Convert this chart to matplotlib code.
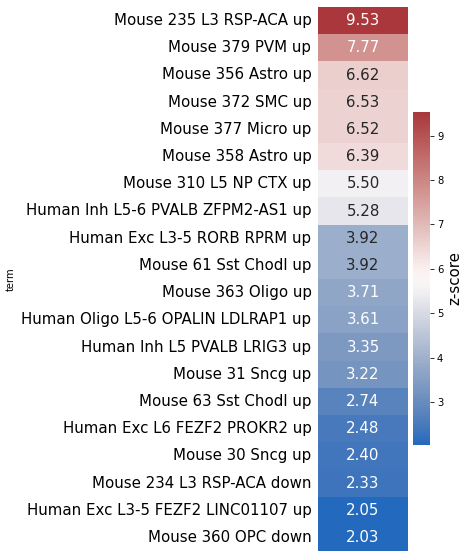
import matplotlib; matplotlib.use('Agg')
import matplotlib.pyplot as plt
import numpy as np
import pandas as pd
import seaborn as sns

terms = ["Mouse 235 L3 RSP-ACA up", "Mouse 379 PVM up", "Mouse 356 Astro up",
         "Mouse 372 SMC up", "Mouse 377 Micro up", "Mouse 358 Astro up",
         "Mouse 310 L5 NP CTX up", "Human Inh L5-6 PVALB ZFPM2-AS1 up",
         "Human Exc L3-5 RORB RPRM up", "Mouse 61 Sst Chodl up", "Mouse 363 Oligo up",
         "Human Oligo L5-6 OPALIN LDLRAP1 up", "Human Inh L5 PVALB LRIG3 up",
         "Mouse 31 Sncg up", "Mouse 63 Sst Chodl up", "Human Exc L6 FEZF2 PROKR2 up",
         "Mouse 30 Sncg up", "Mouse 234 L3 RSP-ACA down",
         "Human Exc L3-5 FEZF2 LINC01107 up", "Mouse 360 OPC down"]
zscores = [9.53, 7.77, 6.62, 6.53, 6.52, 6.39, 5.50, 5.28, 3.92, 3.92,
           3.71, 3.61, 3.35, 3.22, 2.74, 2.48, 2.40, 2.33, 2.05, 2.03]

df = pd.DataFrame({"z-score": zscores}, index=pd.Index(terms, name="term"))

fig = plt.figure(figsize=(469/72, 558/72), dpi=72)
ax = fig.add_axes([318/469, 7/558, 90/469, 544/558])
cax = fig.add_axes([413/469, 113/558, 17/469, 333/558])

sns.heatmap(df, ax=ax, cbar_ax=cax, cmap="vlag", annot=True, fmt=".2f",
            annot_kws={"fontsize": 15}, cbar_kws={"label": "z-score"})
ax.set_xticks([])
ax.tick_params(axis='y', length=0, pad=6.5, labelsize=15, rotation=0)
ax.set_ylabel("term", fontsize=10, labelpad=6)
cax.set_ylabel("z-score", fontsize=15)
cax.tick_params(labelsize=10)

plt.savefig("out.png", dpi=72)
plt.close()
